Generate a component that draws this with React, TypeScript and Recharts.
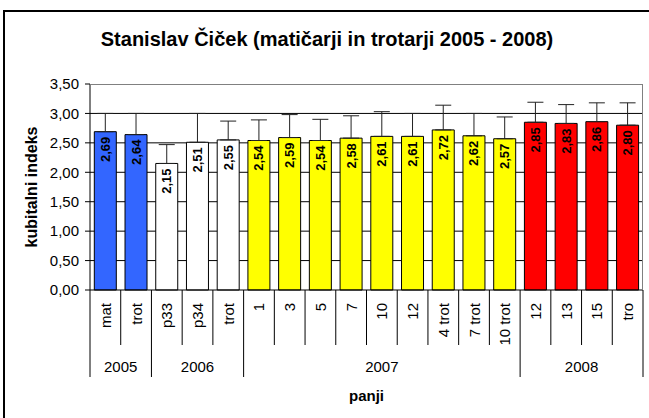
import React from "react"
import {
  Bar,
  BarChart,
  CartesianGrid,
  Cell,
  ErrorBar,
  LabelList,
  XAxis,
  YAxis,
} from "recharts"

// panji po letih
const years = ["2005", "2005", "2006", "2006", "2006", "2007", "2007", "2007", "2007", "2007", "2007", "2007", "2007", "2007", "2008", "2008", "2008", "2008"]
const hives = ["mat", "trot", "p33", "p34", "trot", "1", "3", "5", "7", "10", "12", "4 trot", "7 trot", "10 trot", "12", "13", "15", "tro"]
const values = [2.69, 2.64, 2.15, 2.51, 2.55, 2.54, 2.59, 2.54, 2.58, 2.61, 2.61, 2.72, 2.62, 2.57, 2.85, 2.83, 2.86, 2.8]
// zgornji konec napake (odčitano s slike)
const upper = [3.0, 3.0, 2.47, 3.0, 2.87, 2.89, 2.98, 2.9, 2.96, 3.03, 3.0, 3.14, 3.0, 2.94, 3.19, 3.15, 3.18, 3.18]
const yTicks = [0, 0.5, 1, 1.5, 2, 2.5, 3, 3.5]

const yearColors: Record<string, string> = {
  "2005": "#3366FF",
  "2006": "#FFFFFF",
  "2007": "#FFFF00",
  "2008": "#FF0000",
}

const data = hives.map((h, i) => ({
  key: `${years[i]}-${h}-${i}`,
  name: h,
  year: years[i],
  value: values[i],
  err: [0, +(upper[i] - values[i]).toFixed(2)],
}))

const W = 649
const H = 418
const M = { top: 84, right: 6, bottom: 0, left: 20 }
const Y_W = 70
const X_H = 128
const PLOT_L = M.left + Y_W
const PLOT_R = W - M.right
const PLOT_B = H - M.bottom - X_H
const BAND = (PLOT_R - PLOT_L) / data.length

const FONT = "'Liberation Sans', Arial, sans-serif"
const fmt = (v: number) => v.toFixed(2).replace(".", ",")

function CategoryTick(props: any) {
  const { x, payload } = props
  const i = payload.index
  const first = i === 0 || years[i - 1] !== years[i]
  const last = i === data.length - 1
  const left = x - BAND / 2
  let yearLabel = null
  if (first) {
    let n = 0
    while (years[i + n] === years[i]) n++
    yearLabel = (
      <text x={left + (n * BAND) / 2} y={PLOT_B + 82} textAnchor="middle" fontSize={15} fill="#000" fontFamily={FONT}>
        {years[i]}
      </text>
    )
  }
  return (
    <g>
      <line x1={left} x2={left} y1={PLOT_B} y2={PLOT_B + (first ? 87 : 55)} stroke="#000" />
      {last && <line x1={left + BAND} x2={left + BAND} y1={PLOT_B} y2={PLOT_B + 87} stroke="#000" />}
      <text
        x={x}
        y={PLOT_B + 13}
        transform={`rotate(-90 ${x} ${PLOT_B + 13})`}
        textAnchor="end"
        dominantBaseline="central"
        fontSize={15}
        fill="#000"
        fontFamily={FONT}
      >
        {hives[i]}
      </text>
      {yearLabel}
    </g>
  )
}

function ValueLabel(props: any) {
  const { x, y, width, value } = props
  const cx = x + width / 2
  const ty = y + 5
  return (
    <text
      x={cx}
      y={ty}
      transform={`rotate(-90 ${cx} ${ty})`}
      textAnchor="end"
      dominantBaseline="central"
      fontSize={13}
      fontWeight="bold"
      fill="#000"
      fontFamily={FONT}
    >
      {fmt(value)}
    </text>
  )
}

export default function App() {
  return (
    <div style={{ position: "absolute", left: 0, top: 0, width: W, height: H, overflow: "hidden", background: "#fff" }}>
      <div
        style={{
          position: "absolute",
          left: 3,
          top: 10,
          width: 700,
          height: 500,
          borderLeft: "2px solid #000",
          borderTop: "2px solid #000",
        }}
      />
      <svg width={W} height={60} style={{ position: "absolute", left: 0, top: 0 }}>
        <text x={327} y={46} textAnchor="middle" fontSize={20} fontWeight="bold" fontFamily={FONT} fill="#000">
          Stanislav Čiček (matičarji in trotarji 2005 - 2008)
        </text>
      </svg>
      <div style={{ position: "absolute", left: 0, top: 0 }}>
        <BarChart width={W} height={H} data={data} margin={M} barCategoryGap="14%">
          <CartesianGrid vertical={false} stroke="#000" horizontalValues={[0.5, 1, 1.5, 2, 2.5, 3]} />
          <XAxis
            dataKey="key"
            interval={0}
            height={X_H}
            tickLine={false}
            axisLine={{ stroke: "#000" }}
            tick={<CategoryTick />}
            label={{
              content: (p: any) => (
                <text
                  x={p.viewBox.x + p.viewBox.width / 2}
                  y={p.viewBox.y + 111}
                  textAnchor="middle"
                  fontSize={15}
                  fontWeight="bold"
                  fontFamily={FONT}
                  fill="#000"
                >
                  panji
                </text>
              ),
            }}
          />
          <YAxis
            width={Y_W}
            domain={[0, 3.5]}
            ticks={yTicks}
            tickFormatter={fmt}
            tickSize={5}
            tickMargin={6}
            tickLine={{ stroke: "#000" }}
            axisLine={{ stroke: "#000" }}
            tick={{ fontSize: 15, fill: "#000", fontFamily: FONT }}
            label={{
              content: (p: any) => {
                const lx = p.viewBox.x + 11
                const ly = p.viewBox.y + p.viewBox.height / 2
                return (
                  <text
                    x={lx}
                    y={ly}
                    transform={`rotate(-90 ${lx} ${ly})`}
                    textAnchor="middle"
                    dominantBaseline="central"
                    fontSize={16}
                    fontWeight="bold"
                    fontFamily={FONT}
                    fill="#000"
                  >
                    kubitalni indeks
                  </text>
                )
              },
            }}
          />
          <Bar dataKey="value" stroke="#000" strokeWidth={1} isAnimationActive={false}>
            {data.map((d) => (
              <Cell key={d.key} fill={yearColors[d.year]} />
            ))}
            <ErrorBar dataKey="err" direction="y" width={8} stroke="#222" strokeWidth={1} isAnimationActive={false} />
            <LabelList dataKey="value" content={<ValueLabel />} />
          </Bar>
        </BarChart>
      </div>
      <div
        style={{
          position: "absolute",
          left: PLOT_L,
          top: M.top,
          width: PLOT_R - PLOT_L,
          height: PLOT_B - M.top,
          borderTop: "1px solid #808080",
          borderRight: "1px solid #808080",
          boxSizing: "border-box",
          pointerEvents: "none",
        }}
      />
    </div>
  )
}
